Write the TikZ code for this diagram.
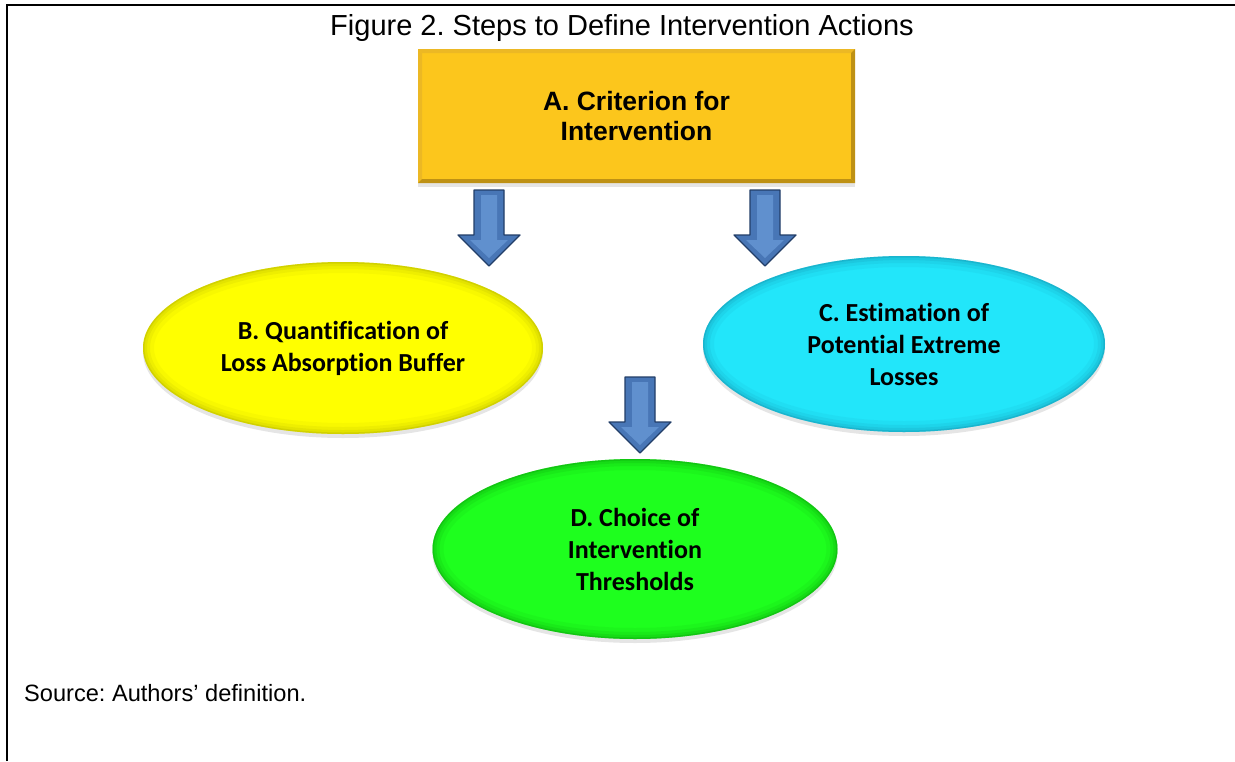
\documentclass[tikz,border=0pt]{standalone}
\usepackage{fontspec}
\setmainfont{Liberation Sans}
\newfontfamily\calib[Ligatures=NoCommon]{Carlito}
\usetikzlibrary{shapes.geometric,shadows,calc}
\frenchspacing

\definecolor{boxgold}{RGB}{252,198,28}
\definecolor{goldlight}{RGB}{236,184,36}
\definecolor{golddark}{RGB}{190,145,20}
\definecolor{ellyellow}{RGB}{255,255,0}
\definecolor{yellowdark}{RGB}{170,170,0}
\definecolor{ellcyan}{RGB}{34,230,250}
\definecolor{cyandark}{RGB}{20,140,170}
\definecolor{ellgreen}{RGB}{30,255,30}
\definecolor{greendark}{RGB}{10,150,10}
\definecolor{arrowblue}{RGB}{72,118,182}
\definecolor{arrowlight}{RGB}{96,144,206}
\definecolor{arrowdark}{RGB}{34,62,104}

\tikzset{
  ellbevel/.style={path picture={
    \foreach \w/\op in {22/0.08, 14/0.12, 8/0.16, 3/0.3}
      \draw[line width=\w pt, #1, opacity=\op]
        let \p1=($(path picture bounding box.north east)-(path picture bounding box.center)$) in
        (path picture bounding box.center) ellipse [x radius=\x1, y radius=\y1];
  }},
  ellnode/.style={ellipse, inner sep=0pt, align=center,
    font=\calib\bfseries\fontsize{26}{32}\selectfont,
    drop shadow={opacity=0.2, shadow xshift=0pt, shadow yshift=-4pt}},
  boxnode/.style={rectangle, inner sep=0pt, align=center, fill=boxgold,
    minimum width=437pt, minimum height=134pt,
    font=\bfseries\fontsize{26.5}{30}\selectfont,
    drop shadow={opacity=0.2, shadow xshift=0pt, shadow yshift=-4pt},
    path picture={
      \fill[goldlight] (path picture bounding box.north west) -- (path picture bounding box.north east)
        -- ++(-4pt,-4pt) -- ($(path picture bounding box.north west)+(4pt,-4pt)$) -- cycle;
      \fill[goldlight] (path picture bounding box.north west) -- (path picture bounding box.south west)
        -- ++(4pt,4pt) -- ($(path picture bounding box.north west)+(4pt,-4pt)$) -- cycle;
      \fill[golddark] (path picture bounding box.south east) -- (path picture bounding box.south west)
        -- ++(4pt,4pt) -- ($(path picture bounding box.south east)+(-4pt,4pt)$) -- cycle;
      \fill[golddark] (path picture bounding box.south east) -- (path picture bounding box.north east)
        -- ++(-4pt,-4pt) -- ($(path picture bounding box.south east)+(-4pt,4pt)$) -- cycle;
    }},
  blockarrow/.pic={
    \fill[arrowblue] (-15,0) -- (15,0) -- (15,45) -- (31,45) -- (0,76) -- (-31,45) -- (-15,45) -- cycle;
    \fill[arrowlight] (-8,5) -- (8,5) -- (8,50) -- (19,50) -- (0,68) -- (-19,50) -- (-8,50) -- cycle;
    \draw[arrowdark, line width=1.3pt, line join=round] (-15,0) -- (15,0) -- (15,45) -- (31,45) -- (0,76) -- (-31,45) -- (-15,45) -- cycle;
  },
  plaintext/.style={inner sep=0pt}
}

\begin{document}
\begin{tikzpicture}[x=1pt,y=-1pt]
\useasboundingbox (0,0) rectangle (1235,761);
\fill[white] (0,0) rectangle (1235,761);

% frame
\draw[line width=2pt] (7,761) -- (7,5) -- (1236,5);

% title
\node[plaintext, anchor=base, font=\fontsize{29}{32}\selectfont] (title) at (622,35.5)
  {Figure 2. Steps to Define Intervention Actions};

% box A
\node[boxnode] (A) at (636.5,116) {A. Criterion for\\Intervention};

% ellipses
\node[ellnode, fill=ellyellow, ellbevel=yellowdark, minimum width=400pt, minimum height=172pt] (B) at (343,348)
  {B. Quantification of\\Loss Absorption Buffer};
\node[ellnode, fill=ellcyan, ellbevel=cyandark, minimum width=402pt, minimum height=176pt] (C) at (904,344)
  {C. Estimation of\\Potential Extreme\\Losses};
\node[ellnode, fill=ellgreen, ellbevel=greendark, minimum width=405pt, minimum height=180pt] (D) at (635,549)
  {D. Choice of\\Intervention\\Thresholds};

% block arrows
\pic (arrAB) at (489,190) {blockarrow};
\pic (arrAC) at (765,190) {blockarrow};
\pic (arrBD) at (640,377) {blockarrow};

% source
\node[plaintext, anchor=base west, font=\fontsize{23.6}{27}\selectfont] (source) at (24,701)
  {Source: Authors’ definition.};
\end{tikzpicture}
\end{document}
